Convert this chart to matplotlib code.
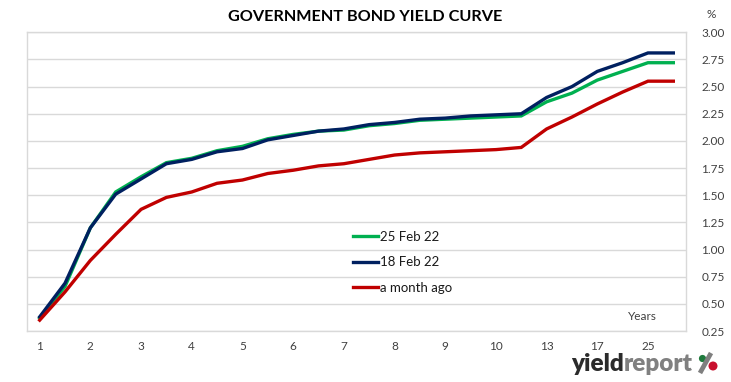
import numpy as np
import matplotlib.pyplot as plt
from matplotlib.patches import Circle
from matplotlib.lines import Line2D
from matplotlib.transforms import IdentityTransform

# maturities (years) - only every second one is labelled on the chart
years = ['1', '1.5', '2', '2.5', '3', '3.5', '4', '4.5', '5', '5.5', '6', '6.5', '7',
         '7.5', '8', '8.5', '9', '9.5', '10', '12', '13', '15', '17', '20', '25', '30']

feb25 = [0.37, 0.66, 1.20, 1.53, 1.67, 1.80, 1.84, 1.91, 1.95, 2.02, 2.06, 2.09, 2.10,
         2.14, 2.16, 2.19, 2.20, 2.21, 2.22, 2.23, 2.36, 2.44, 2.56, 2.64, 2.72, 2.72]
feb18 = [0.38, 0.69, 1.20, 1.51, 1.65, 1.79, 1.83, 1.90, 1.93, 2.01, 2.05, 2.09, 2.11,
         2.15, 2.17, 2.20, 2.21, 2.23, 2.24, 2.25, 2.40, 2.50, 2.64, 2.72, 2.81, 2.81]
month_ago = [0.35, 0.61, 0.90, 1.14, 1.37, 1.48, 1.53, 1.61, 1.64, 1.70, 1.73, 1.77, 1.79,
             1.83, 1.87, 1.89, 1.90, 1.91, 1.92, 1.94, 2.11, 2.22, 2.34, 2.45, 2.55, 2.55]

series_names = ['25 Feb 22', '18 Feb 22', 'a month ago']
series_colors = ['#00B050', '#002060', '#C00000']

FONT = 'Lato'
GRID = '#D9D9D9'
H = 382

fig = plt.figure(figsize=(7.31, 3.82), dpi=100)
ax = fig.add_axes([27 / 731, 1 - 331 / H, (686 - 27) / 731, (331 - 32.3) / H])

x = np.arange(len(years))
for vals, name, col in zip([feb25, feb18, month_ago], series_names, series_colors):
    ax.plot(x, vals, color=col, lw=2.4, label=name, solid_joinstyle='miter')

ax.set_xlim(-0.5, len(years) - 0.5)
ax.set_ylim(0.25, 3.0)
yt = np.arange(0.25, 3.01, 0.25)
ax.set_yticks(yt)
ax.set_yticklabels(['%.2f' % v for v in yt], fontsize=8.5, family=FONT, color='#404040')
ax.yaxis.tick_right()
ax.set_xticks(x[::2])
ax.set_xticklabels(years[::2], fontsize=8.5, family=FONT, color='#404040')
ax.tick_params(length=0)
ax.tick_params(axis='y', pad=11)
ax.tick_params(axis='x', pad=7)

ax.grid(axis='y', color=GRID, lw=1)
ax.set_axisbelow(True)
for s in ax.spines.values():
    s.set_color(GRID)
    s.set_linewidth(1)

ax.text(0.955, 0.05, 'Years', transform=ax.transAxes, ha='right', va='center',
        fontsize=8.5, family=FONT, color='#404040')

leg = ax.legend(loc='upper left', bbox_to_anchor=(0.485, 0.357), frameon=False,
                prop={'family': FONT, 'size': 9.5}, handlelength=1.9, handletextpad=0.15,
                labelspacing=1.02, borderpad=0)
for t in leg.get_texts():
    t.set_color('#1a1a1a')

fig.text(0.5, 1 - 17 / H, 'GOVERNMENT BOND YIELD CURVE', ha='center', va='center',
         fontsize=11.7, fontweight='bold', family=FONT, color='#000000')
fig.text(711 / 731, 1 - 15 / H, '%', ha='center', va='center',
         fontsize=8.5, family=FONT, color='#404040')

# logo
t1 = fig.text(571 / 731, 1 - 364 / H, 'yield', ha='left', va='center',
              fontsize=17.5, fontweight='heavy', family=FONT, color='#2b2b2b')
fig.canvas.draw()
bb = t1.get_window_extent()
fig.text(bb.x1 / fig.bbox.width, 1 - 364 / H, 'report', ha='left', va='center',
         fontsize=17.5, fontweight='heavy', family=FONT, color='#808080')

# the % sign of the logo: grey slash with a green and a red dot
idt = IdentityTransform()
fig.add_artist(Line2D([700, 711], [H - 373, H - 353], color='#7f7f7f', lw=3.4,
                      transform=idt, solid_capstyle='butt'))
fig.add_artist(Circle((702.5, H - 358.5), 3.6, facecolor='#1e7a3c', edgecolor='none',
                      transform=idt))
fig.add_artist(Circle((713, H - 366), 4.5, facecolor='#c8102e', edgecolor='none',
                      transform=idt))

fig.savefig('out.png', dpi=100)
